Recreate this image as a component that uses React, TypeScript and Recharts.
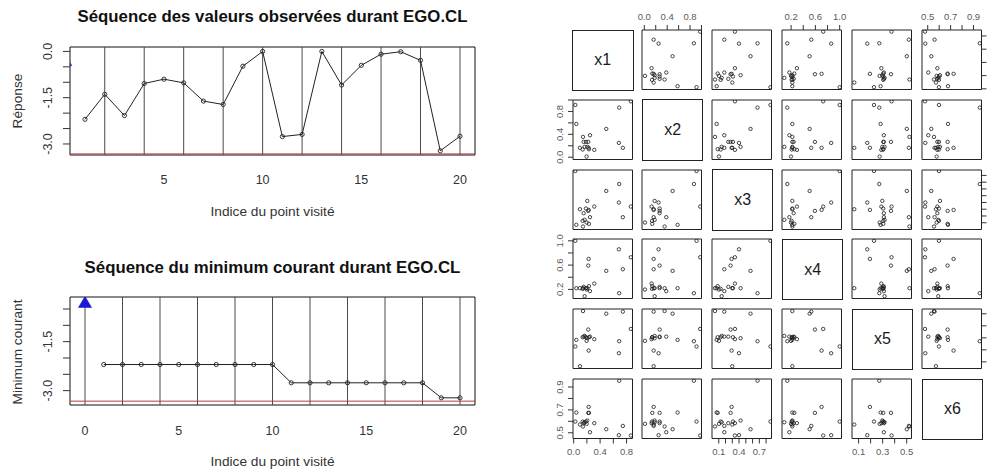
import React from 'react';
import {
  ComposedChart,
  Line,
  XAxis,
  YAxis,
  ReferenceLine,
  ReferenceArea,
  ScatterChart,
  Scatter,
} from 'recharts';

const FONT = '"Liberation Sans", Arial, Helvetica, sans-serif';

// ---------- Sequence charts data ----------
const visitIndex = [1, 2, 3, 4, 5, 6, 7, 8, 9, 10, 11, 12, 13, 14, 15, 16, 17, 18, 19, 20];
const observedValues = [-2.2, -1.39, -2.08, -1.04, -0.9, -1.02, -1.61, -1.72, -0.48, 0.0, -2.76, -2.69, 0.0, -1.09, -0.45, -0.09, -0.01, -0.29, -3.22, -2.75];
const runningMinimum = [-2.2, -2.2, -2.2, -2.2, -2.2, -2.2, -2.2, -2.2, -2.2, -2.2, -2.76, -2.76, -2.76, -2.76, -2.76, -2.76, -2.76, -2.76, -3.22, -3.22];
const initialIndex = [0];
const initialValue = [-0.3];
const globalMinimum = -3.32237;
const verticalMarks = [0, 2, 4, 6, 8, 10, 12, 14, 16, 18, 20];
const responseTicks = [0, -0.5, -1, -1.5, -2, -2.5, -3];
const minimumTicks = [-0.5, -1, -1.5, -2, -2.5, -3];
const responseTickLabels = [0, -1.5, -3];
const topIndexTicks = [5, 10, 15, 20];
const bottomIndexTicks = [0, 5, 10, 15, 20];

// ---------- Scatter matrix data ----------
const varNames = ['x1', 'x2', 'x3', 'x4', 'x5', 'x6'];
const x1Values = [0.025, 0.04, 0.865, 0.744, 0.689, 0.684, 0.493, 0.312, 0.221, 0.227, 0.166, 0.247, 0.141, 0.095, 0.186, 0.206, 0.231, 0.196, 0.151, 0.136];
const x2Values = [0.913, 0.582, 0.977, 0.164, 0.867, 0.25, 0.495, 0.128, 0.268, 0.164, 0.181, 0.384, 0.355, 0.164, 0.268, 0.181, 0.14, 0.012, 0.268, 0.135];
const x3Values = [0.865, 0.069, 0.339, 0.182, 0.673, 0.399, 0.57, 0.339, 0.275, 0.29, 0.143, 0.182, 0.044, 0.3, 0.31, 0.423, 0.084, 0.103, 0.241, 0.128];
const x4Values = [1.0, 0.22, 0.729, 0.532, 0.137, 0.86, 0.505, 0.296, 0.592, 0.702, 0.088, 0.171, 0.22, 0.22, 0.22, 0.22, 0.253, 0.198, 0.242, 0.209];
const x5Values = [0.228, 0.283, 0.374, 0.518, 0.272, 0.172, 0.501, 0.289, 0.369, 0.194, 0.316, 0.31, 0.523, 0.064, 0.305, 0.297, 0.305, 0.275, 0.31, 0.305];
const x6Values = [0.598, 0.677, 0.476, 0.56, 0.955, 0.479, 0.531, 0.584, 0.674, 0.726, 0.592, 0.505, 0.555, 0.572, 0.598, 0.607, 0.674, 0.578, 0.584, 0.598];

const x1Ticks = [0, 0.2, 0.4, 0.6, 0.8];
const x2Ticks = [0, 0.2, 0.4, 0.6, 0.8, 1.0];
const x3Ticks = [0.1, 0.2, 0.3, 0.4, 0.5, 0.6, 0.7, 0.8];
const x4Ticks = [0.2, 0.4, 0.6, 0.8, 1.0];
const x5Ticks = [0.1, 0.2, 0.3, 0.4, 0.5];
const x6Ticks = [0.5, 0.6, 0.7, 0.8, 0.9];
const x1Labels = [0, 0.4, 0.8];
const x2Labels = [0, 0.4, 0.8];
const x3Labels = [0.1, 0.4, 0.7];
const x4Labels = [0.2, 0.6, 1.0];
const x5Labels = [0.1, 0.3, 0.5];
const x6Labels = [0.5, 0.7, 0.9];

const VARS = [
  { name: varNames[0], values: x1Values, domain: [-0.01, 0.89], ticks: x1Ticks, labels: x1Labels },
  { name: varNames[1], values: x2Values, domain: [-0.04, 1.0], ticks: x2Ticks, labels: x2Labels },
  { name: varNames[2], values: x3Values, domain: [0.0, 0.88], ticks: x3Ticks, labels: x3Labels },
  { name: varNames[3], values: x4Values, domain: [0.05, 1.03], ticks: x4Ticks, labels: x4Labels },
  { name: varNames[4], values: x5Values, domain: [0.045, 0.54], ticks: x5Ticks, labels: x5Labels },
  { name: varNames[5], values: x6Values, domain: [0.45, 0.97], ticks: x6Ticks, labels: x6Labels },
];

const isLabeled = (labels: number[], v: number) => labels.some((l) => Math.abs(l - v) < 1e-9);
const fmt1 = (v: number) => (Math.abs(v) < 1e-9 ? '0.0' : v.toFixed(1));

// ---------- Helpers ----------
function TextAt({ x, y, children, size = 13.7, bold = false, rotate = false, color = '#333' }: any) {
  return (
    <div
      style={{
        position: 'absolute',
        left: x,
        top: y,
        transform: `translate(-50%, -50%)${rotate ? ' rotate(-90deg)' : ''}`,
        whiteSpace: 'nowrap',
        fontFamily: FONT,
        fontSize: size,
        fontWeight: bold ? 'bold' : 'normal',
        color,
        lineHeight: 1,
      }}
    >
      {children}
    </div>
  );
}

const SeqYTick = (props: any) => {
  const { x, y, payload } = props;
  if (!isLabeled(responseTickLabels, payload.value)) return null;
  const cx = x - 13;
  return (
    <text
      x={cx}
      y={y}
      transform={`rotate(-90 ${cx} ${y})`}
      textAnchor="middle"
      dominantBaseline="central"
      fontFamily={FONT}
      fontSize={12.5}
      fill="#333"
    >
      {fmt1(payload.value)}
    </text>
  );
};

const SeqDot = (props: any) => {
  const { cx, cy } = props;
  if (cx == null || cy == null) return null;
  return <circle cx={cx} cy={cy} r={2.1} fill="none" stroke="#222" strokeWidth={0.9} />;
};

const BlueTriangle = (props: any) => {
  const { cx, cy } = props;
  if (cx == null || cy == null) return null;
  return (
    <path
      d={`M${cx},${cy - 6.2} L${cx + 6.6},${cy + 5} L${cx - 6.6},${cy + 5} Z`}
      fill="#1a1ad6"
      stroke="#1a1ad6"
      strokeWidth={0.5}
    />
  );
};

function SequenceChart({ top, values, xDomain, yDomain, yTicks, xTicks, xTickMargin }: any) {
  const data = visitIndex.map((x, i) => ({ x, y: values[i] }));
  const initData = initialIndex.map((x, i) => ({ x, y: initialValue[i] }));
  return (
    <div style={{ position: 'absolute', left: 0, top }}>
      <ComposedChart width={500} height={230} data={data} margin={{ top: 47, right: 25, bottom: 45, left: 30 }}>
        <XAxis
          type="number"
          dataKey="x"
          domain={xDomain}
          allowDataOverflow
          ticks={xTicks}
          interval={0}
          tickLine={false}
          axisLine={false}
          tickSize={6}
          tickMargin={xTickMargin}
          height={30}
          tick={{ fontFamily: FONT, fontSize: 12.5, fill: '#333' }}
        />
        <YAxis
          type="number"
          domain={yDomain}
          allowDataOverflow
          ticks={yTicks}
          interval={0}
          width={40}
          tickSize={7}
          tickMargin={2}
          axisLine={false}
          tickLine={{ stroke: '#333' }}
          tick={<SeqYTick />}
        />
        {verticalMarks.map((v) => (
          <ReferenceLine key={v} x={v} stroke="#4a4a4a" strokeWidth={1} ifOverflow="discard" />
        ))}
        <ReferenceLine y={globalMinimum} stroke="#b83c3c" strokeWidth={1} />
        <Line
          type="linear"
          dataKey="y"
          stroke="#222"
          strokeWidth={1}
          dot={<SeqDot />}
          activeDot={false}
          isAnimationActive={false}
        />
        <Scatter data={initData} dataKey="y" shape={<BlueTriangle />} isAnimationActive={false} />
        <ReferenceArea
          x1={xDomain[0]}
          x2={xDomain[1]}
          y1={yDomain[0]}
          y2={yDomain[1]}
          fill="none"
          fillOpacity={0}
          stroke="#111"
          strokeWidth={1}
          ifOverflow="visible"
        />
      </ComposedChart>
    </div>
  );
}

// ---------- Scatter matrix ----------
const MAT_LEFT = 572.5;
const MAT_TOP = 30;
const PITCH_X = 69.95;
const PITCH_Y = 69.8;
const SIZE = 59.5;
const AX = 26;
const PAD = 12;
const MAT_TICK_FONT = 9.5;
const MAT_TICK_COLOR = '#5a5a5a';

const Ring = (props: any) => {
  const { cx, cy } = props;
  if (cx == null || cy == null) return null;
  return <circle cx={cx} cy={cy} r={1.7} fill="none" stroke="#1a1a1a" strokeWidth={0.8} />;
};

const makeLeftTick = (labels: number[]) => (props: any) => {
  const { x, y, payload } = props;
  if (!isLabeled(labels, payload.value)) return null;
  const cx = x - 6.4;
  return (
    <text
      x={cx}
      y={y}
      transform={`rotate(-90 ${cx} ${y})`}
      textAnchor="middle"
      dominantBaseline="central"
      fontFamily={FONT}
      fontSize={MAT_TICK_FONT}
      fill={MAT_TICK_COLOR}
    >
      {fmt1(payload.value)}
    </text>
  );
};

const NoLabelTick = () => null;

function PairCell({ row, col }: { row: number; col: number }) {
  const xv = VARS[col];
  const yv = VARS[row];
  const left = MAT_LEFT + col * PITCH_X;
  const top = MAT_TOP + row * PITCH_Y;
  if (row === col) {
    return (
      <div
        style={{
          position: 'absolute',
          left: left - 0.5,
          top: top - 0.5,
          width: SIZE,
          height: SIZE,
          border: '1px solid #222',
          display: 'flex',
          alignItems: 'center',
          justifyContent: 'center',
          fontFamily: FONT,
          fontSize: 16,
          color: '#1a1a1a',
        }}
      >
        {xv.name}
      </div>
    );
  }
  const showTop = row === 0 && col % 2 === 1;
  const showBottom = row === 5 && col % 2 === 0;
  const showLeft = col === 0 && row % 2 === 1;
  const showRight = col === 5 && row % 2 === 0;
  const w = SIZE + 2 * PAD + (showLeft ? AX : 0) + (showRight ? AX : 0);
  const h = SIZE + 2 * PAD + (showTop ? AX : 0) + (showBottom ? AX : 0);
  const data = xv.values.map((v, i) => ({ x: v, y: yv.values[i] }));
  const LeftTick = makeLeftTick(yv.labels);
  return (
    <div
      style={{
        position: 'absolute',
        left: left - PAD - (showLeft ? AX : 0),
        top: top - PAD - (showTop ? AX : 0),
      }}
    >
      <ScatterChart width={w} height={h} margin={{ top: PAD, right: PAD, bottom: PAD, left: PAD }}>
        <XAxis
          type="number"
          dataKey="x"
          domain={xv.domain}
          allowDataOverflow
          ticks={xv.ticks}
          interval={0}
          hide={!(showTop || showBottom)}
          orientation={showTop ? 'top' : 'bottom'}
          height={AX}
          axisLine={false}
          tickLine={{ stroke: '#333' }}
          tickSize={5}
          tickMargin={5}
          tickFormatter={(v: number) => (isLabeled(xv.labels, v) ? fmt1(v) : '')}
          tick={{ fontFamily: FONT, fontSize: MAT_TICK_FONT, fill: MAT_TICK_COLOR }}
        />
        <YAxis
          type="number"
          dataKey="y"
          domain={yv.domain}
          allowDataOverflow
          ticks={yv.ticks}
          interval={0}
          hide={!(showLeft || showRight)}
          orientation={showLeft ? 'left' : 'right'}
          width={AX}
          axisLine={false}
          tickLine={{ stroke: '#333' }}
          tickSize={5}
          tickMargin={2}
          tick={showLeft ? <LeftTick /> : <NoLabelTick />}
        />
        <ReferenceArea
          x1={xv.domain[0]}
          x2={xv.domain[1]}
          y1={yv.domain[0]}
          y2={yv.domain[1]}
          fill="none"
          fillOpacity={0}
          stroke="#222"
          strokeWidth={1}
          ifOverflow="visible"
        />
        <Scatter data={data} shape={<Ring />} isAnimationActive={false} />
      </ScatterChart>
    </div>
  );
}

export default function App() {
  const cells: React.ReactNode[] = [];
  for (let r = 0; r < 6; r++) {
    for (let c = 0; c < 6; c++) {
      cells.push(<PairCell key={`${r}-${c}`} row={r} col={c} />);
    }
  }
  return (
    <div
      style={{
        position: 'absolute',
        left: 0,
        top: 0,
        width: 993,
        height: 471,
        overflow: 'hidden',
        background: '#fff',
      }}
    >
      <SequenceChart
        top={0}
        values={observedValues}
        xDomain={[0.24, 20.76]}
        yDomain={[-3.357, 0.143]}
        yTicks={responseTicks}
        xTicks={topIndexTicks}
        xTickMargin={14}
      />
      <SequenceChart
        top={250}
        values={runningMinimum}
        xDomain={[-0.8, 20.8]}
        yDomain={[-3.44, -0.132]}
        yTicks={minimumTicks}
        xTicks={bottomIndexTicks}
        xTickMargin={15}
      />
      <TextAt x={272.5} y={17.3} size={16.8} bold color="#111">
        Séquence des valeurs observées durant EGO.CL
      </TextAt>
      <TextAt x={272.5} y={268.3} size={16.8} bold color="#111">
        Séquence du minimum courant durant EGO.CL
      </TextAt>
      <TextAt x={272.5} y={211.7}>Indice du point visité</TextAt>
      <TextAt x={272.5} y={461.7}>Indice du point visité</TextAt>
      <TextAt x={18.3} y={101} rotate>
        Réponse
      </TextAt>
      <TextAt x={18.3} y={351.5} rotate>
        Minimum courant
      </TextAt>
      {cells}
    </div>
  );
}
